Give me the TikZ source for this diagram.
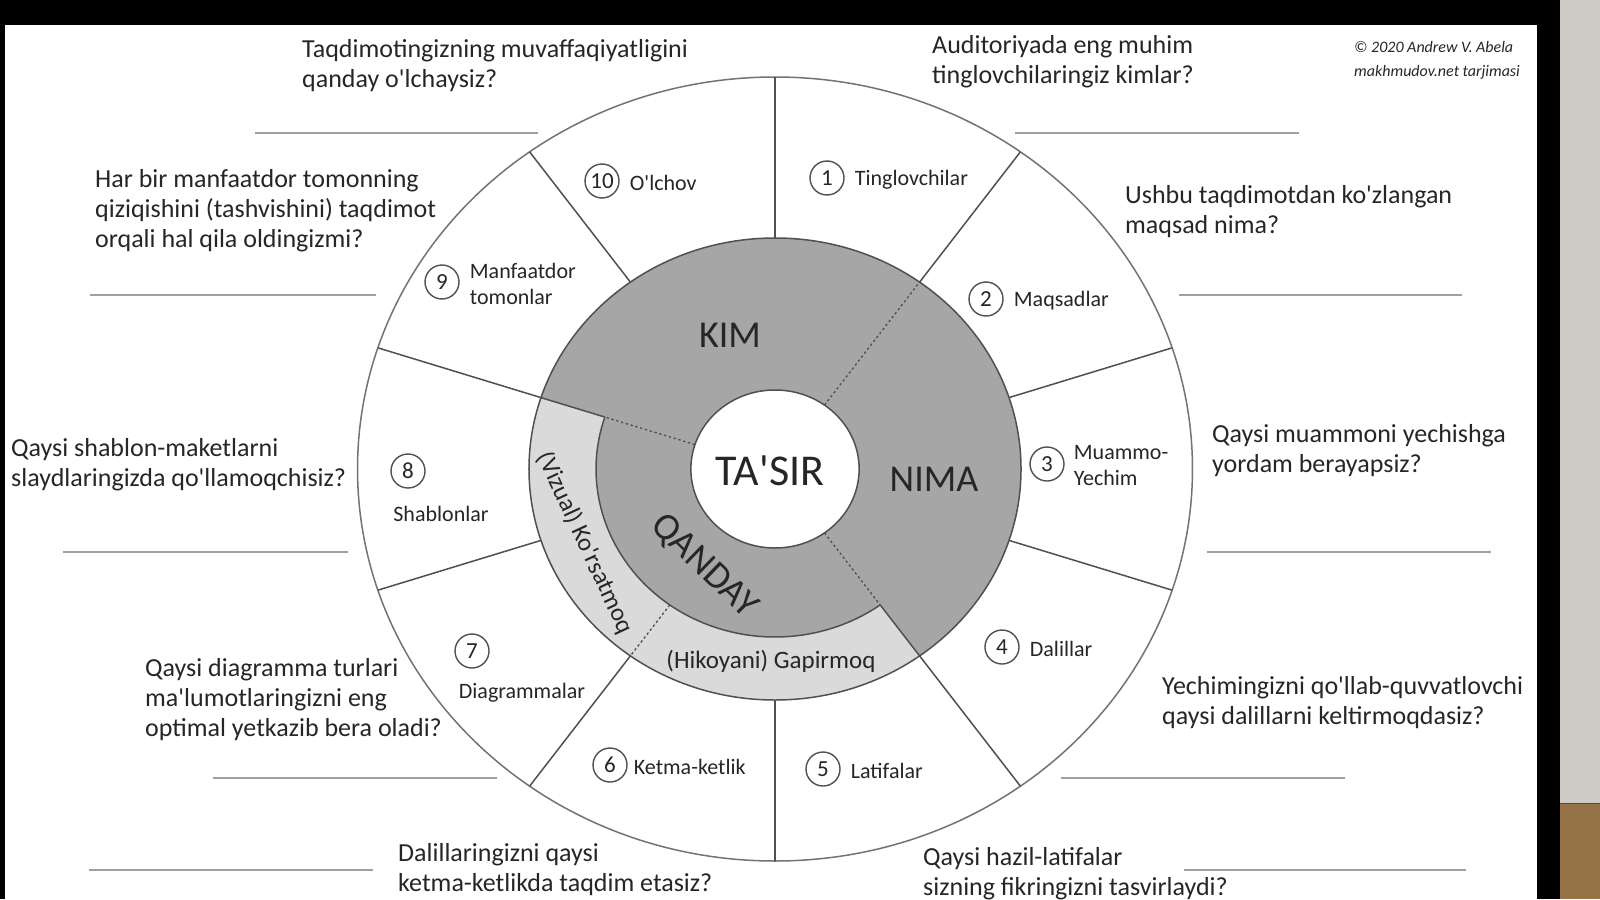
\documentclass[tikz,border=0pt]{standalone}
\usepackage{fontspec}
\setmainfont{Carlito}[Ligatures=TeXOff]
\usepackage{tikz}
\usetikzlibrary{positioning}

\definecolor{darkfill}{RGB}{166,166,166}
\definecolor{lightfill}{RGB}{218,218,218}
\definecolor{wheelgray}{RGB}{80,80,80}
\definecolor{answergray}{RGB}{160,160,160}
\definecolor{sidegray}{RGB}{206,203,198}
\definecolor{wood}{RGB}{150,115,70}

\begin{document}
\begin{tikzpicture}[x=1pt, y=-1pt, every node/.style={inner sep=0pt, text=black!85}]
% styles
\tikzstyle{question}=[anchor=west, align=left, font=\fontsize{26}{30}\selectfont]
\tikzstyle{num}=[circle, draw=wheelgray, line width=1.4pt, minimum size=34pt, font=\fontsize{23}{26}\selectfont]
\tikzstyle{item}=[align=left, yshift=-2pt, font=\fontsize{22}{26}\selectfont]
\tikzstyle{big}=[font=\fontsize{38}{44}\selectfont]
\tikzstyle{band}=[font=\fontsize{25}{30}\selectfont]
\tikzstyle{wheel}=[draw=wheelgray, line width=1.5pt]
\tikzstyle{split}=[draw=wheelgray, line width=1.3pt, dash pattern=on 2.5pt off 2.5pt]
\tikzstyle{answer}=[draw=answergray, line width=1.6pt]

% frame
\useasboundingbox (0,0) rectangle (1600,899);
\fill[black] (0,0) rectangle (1560,899);
\fill[white] (5,25) rectangle (1537,899);
\fill[sidegray] (1560,0) rectangle (1600,803);
\fill[wood] (1560,803) rectangle (1600,899);
\draw[black!70, line width=1pt] (1560,803) -- (1600,803);

% wheel
\begin{scope}[shift={(775,469)}, yscale=-1, xscale=1.065]
  \def\R{392} \def\rb{231} \def\ra{168} \def\rc{79}
  % grey sectors
  \fill[darkfill] (54:\rc) -- (54:\rb) arc[start angle=54, end angle=162, radius=\rb]
    -- (162:\rc) arc[start angle=162, end angle=54, radius=\rc] -- cycle;
  \fill[darkfill] (-54:\rc) -- (-54:\rb) arc[start angle=-54, end angle=54, radius=\rb]
    -- (54:\rc) arc[start angle=54, end angle=-54, radius=\rc] -- cycle;
  \fill[darkfill] (162:\rc) -- (162:\ra) arc[start angle=162, end angle=306, radius=\ra]
    -- (306:\rc) arc[start angle=306, end angle=162, radius=\rc] -- cycle;
  \fill[lightfill] (162:\ra) -- (162:\rb) arc[start angle=162, end angle=306, radius=\rb]
    -- (306:\ra) arc[start angle=306, end angle=162, radius=\ra] -- cycle;
  % rings
  \draw[wheel, draw=black!55] (0,0) circle (\R);
  \draw[wheel] (0,0) circle (\rb);
  \draw[wheel] (162:\ra) arc[start angle=162, end angle=306, radius=\ra];
  \foreach \a in {90,54,18,-18,-54,-90,-126,-162,162,126}
    \draw[wheel] (\a:\rb) -- (\a:\R);
  \draw[wheel] (162:\ra) -- (162:\rb);
  \draw[wheel] (-54:\ra) -- (-54:\rb);
  % dotted splits
  \draw[split] (54:\rc) -- (54:\rb);
  \draw[split] (162:\rc) -- (162:\ra);
  \draw[split] (-54:\rc) -- (-54:\ra);
  \draw[split] (234:\ra) -- (234:\rb);
  \draw[wheel, fill=white] (0,0) circle (\rc);
\end{scope}

% centre and sectors
\node[font=\fontsize{44}{50}\selectfont] (tasir) at (770,471) {TA'SIR};
\node[big] (kim) at (730,335) {KIM};
\node[big] (nima) at (934,479) {NIMA};
\node[big, rotate=-44] (qanday) at (704,566) {QANDAY};
\node[band, rotate=-65] (show) at (585,543) {(Vizual) Ko'rsatmoq};
\node[band] (tell) at (771,661) {(Hikoyani) Gapirmoq};

% items
\node[num] (n1) at (827,178) {1};
\node[item, right=10pt of n1] (t1) {Tinglovchilar};
\node[num] (n2) at (986,299) {2};
\node[item, right=10pt of n2] (t2) {Maqsadlar};
\node[num] (n3) at (1047,464) {3};
\node[item, right=9pt of n3] (t3) {Muammo-\\Yechim};
\node[num] (n4) at (1002,647) {4};
\node[item, right=10pt of n4] (t4) {Dalillar};
\node[num] (n5) at (823,769) {5};
\node[item, right=10pt of n5] (t5) {Latifalar};
\node[num] (n6) at (610,765) {6};
\node[item, right=6pt of n6] (t6) {Ketma-ketlik};
\node[num] (n7) at (472,651) {7};
\node[item] (t7) at (522,691) {Diagrammalar};
\node[num] (n8) at (408,471) {8};
\node[item] (t8) at (441,512) {Shablonlar};
\node[num] (n9) at (442,282) {9};
\node[item, right=10pt of n9] (t9) {Manfaatdor\\tomonlar};
\node[num] (n10) at (602,181) {10};
\node[item, right=10pt of n10] (t10) {O'lchov};

% questions
\node[question] (q1) at (932,62) {Auditoriyada eng muhim\\tinglovchilaringiz kimlar?};
\node[question] (q2) at (1125,212) {Ushbu taqdimotdan ko'zlangan\\maqsad nima?};
\node[question] (q3) at (1212,451) {Qaysi muammoni yechishga\\yordam berayapsiz?};
\node[question] (q4) at (1162,703) {Yechimingizni qo'llab-quvvatlovchi\\qaysi dalillarni keltirmoqdasiz?};
\node[question] (q5) at (923,874) {Qaysi hazil-latifalar\\sizning fikringizni tasvirlaydi?};
\node[question] (q6) at (398,870) {Dalillaringizni qaysi\\ketma-ketlikda taqdim etasiz?};
\node[question] (q7) at (145,700) {Qaysi diagramma turlari\\ma'lumotlaringizni eng\\optimal yetkazib bera oladi?};
\node[question] (q8) at (11,465) {Qaysi shablon-maketlarni\\slaydlaringizda qo'llamoqchisiz?};
\node[question] (q9) at (95,211) {Har bir manfaatdor tomonning\\qiziqishini (tashvishini) taqdimot\\orqali hal qila oldingizmi?};
\node[question] (q10) at (302,66) {Taqdimotingizning muvaffaqiyatligini\\qanday o'lchaysiz?};

% answer lines
\foreach \xa/\xb/\y in {1015/1299/133, 1179/1462/295, 1207/1491/552, 1061/1345/778, 1184/1466/870,
  89/373/870, 213/497/778, 63/348/552, 90/376/295, 255/538/133}
  \draw[answer] (\xa,\y) -- (\xb,\y);

% credit
\node[anchor=west, font=\fontsize{16}{18}\selectfont\itshape] (credit) at (1354,47) {\textcopyright{} 2020 Andrew V. Abela};
\node[anchor=west, font=\fontsize{16}{18}\selectfont\itshape] (transl) at (1354,72) {makhmudov.net tarjimasi};

\end{tikzpicture}
\end{document}
